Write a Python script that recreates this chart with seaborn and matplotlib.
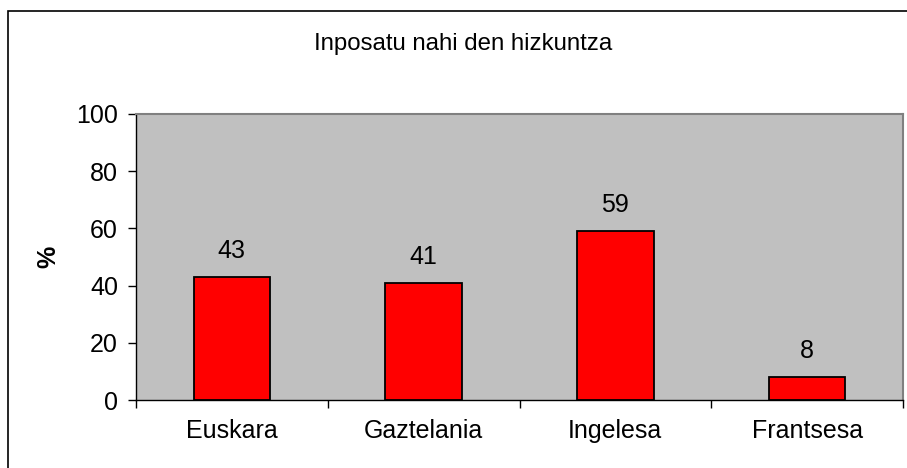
import matplotlib
matplotlib.use("Agg")
import matplotlib.pyplot as plt
import seaborn as sns
import numpy as np
from matplotlib.patches import Rectangle

# datuak
hizkuntzak = ["Euskara", "Gaztelania", "Ingelesa", "Frantsesa"]
ehunekoak = [43, 41, 59, 8]
y_ticks = [0, 20, 40, 60, 80, 100]
izenburua = "Inposatu nahi den hizkuntza"

sns.set_style("white")
plt.rcParams["font.family"] = ["Liberation Sans", "DejaVu Sans"]
plt.rcParams["text.color"] = "black"
plt.rcParams["xtick.color"] = "black"
plt.rcParams["ytick.color"] = "black"
plt.rcParams["axes.labelcolor"] = "black"

fig = plt.figure(figsize=(9.07, 4.68), dpi=100)
ax = fig.add_axes([136 / 907, 68 / 468, 767 / 907, 286 / 468])

sns.barplot(x=hizkuntzak, y=ehunekoak, color="#FF0000", saturation=1,
            edgecolor="black", linewidth=1.3, width=0.4, ax=ax)

ax.set_facecolor("#C0C0C0")
ax.set_ylim(0, 100)
ax.set_xlim(-0.5, len(hizkuntzak) - 0.5)
ax.set_yticks(y_ticks)
ax.set_yticklabels([str(t) for t in y_ticks], fontsize=18)

# x ardatza: marrak kategorien artean, etiketak erdian
ax.set_xticks(np.arange(-0.5, len(hizkuntzak), 1.0))
ax.set_xticklabels([])
ax.set_xticks(np.arange(len(hizkuntzak)), minor=True)
ax.set_xticklabels(hizkuntzak, minor=True, fontsize=18)
ax.tick_params(axis="x", which="major", direction="out", length=6, width=1, bottom=True)
ax.tick_params(axis="x", which="minor", length=0, pad=14)
ax.tick_params(axis="y", direction="out", length=6, width=1, left=True, pad=7)

for side in ["left", "bottom"]:
    ax.spines[side].set_color("black")
    ax.spines[side].set_linewidth(1)
for side in ["top", "right"]:
    ax.spines[side].set_visible(True)
    ax.spines[side].set_color("#808080")
    ax.spines[side].set_linewidth(1.5)

ax.set_ylabel("%", fontsize=18, fontweight="bold", labelpad=11)
ax.set_xlabel("")

for i, v in enumerate(ehunekoak):
    ax.annotate(str(v), (i, v), xytext=(0, 10), textcoords="offset points",
                ha="center", va="bottom", fontsize=18)

fig.text(463 / 907, 1 - 44 / 468, izenburua, ha="center", va="center", fontsize=17.3)

# kanpoko markoa
fig.patches.append(Rectangle((8 / 907, -0.2), 1.2, 0.2 + 1 - 11 / 468, transform=fig.transFigure,
                             fill=False, edgecolor="black", linewidth=1.2))

fig.savefig("out.png", dpi=100)
